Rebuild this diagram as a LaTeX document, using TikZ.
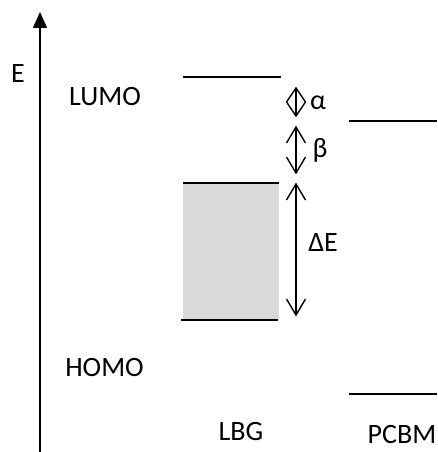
\documentclass[tikz,border=0pt]{standalone}
\usepackage{fontspec}
\setmainfont{Carlito}
\usetikzlibrary{arrows.meta,calc}
\begin{document}
\begin{tikzpicture}[x=1pt,y=-1pt,
  lvl/.style={line width=2pt},
  lbl/.style={font=\fontsize{28}{32}\selectfont, inner sep=0pt},
  gapline/.style={line width=1.4pt, line join=miter}]
% open double-headed offset arrow between two named coordinates
\newcommand\gaparrow[3]{%
  \draw[gapline] (#1) -- (#2);
  \draw[gapline] ($(#1)+(-9.5,#3)$) -- (#1) -- ($(#1)+(9.5,#3)$);
  \draw[gapline] ($(#2)+(-9.5,-#3)$) -- (#2) -- ($(#2)+(9.5,-#3)$);}
\useasboundingbox (0,0) rectangle (437,452);
% energy axis
\coordinate (axb) at (40,452);
\coordinate (axt) at (40,12);
\draw[line width=1.5pt, -{Triangle[length=16pt,width=14pt]}] (axb) -- (axt);
\node[lbl] (E) at (18,74) {E};
% band gap of the low band gap polymer
\fill[gray!30] (183,183) rectangle (279,320);
\draw[lvl] (183,77) coordinate (l1) -- (281,77) coordinate (l2);
\draw[lvl] (183,183) coordinate (g1) -- (279,183) coordinate (g2);
\draw[lvl] (181,320) coordinate (h1) -- (278,320) coordinate (h2);
% PCBM levels
\draw[lvl] (349,121) coordinate (p1) -- (437,121) coordinate (p2);
\draw[lvl] (349,394) coordinate (q1) -- (437,394) coordinate (q2);
% offsets
\coordinate (a1) at (296,88);  \coordinate (a2) at (296,116);
\coordinate (b1) at (296,127); \coordinate (b2) at (296,173);
\coordinate (d1) at (296,184); \coordinate (d2) at (296,315);
\gaparrow{a1}{a2}{14}
\gaparrow{b1}{b2}{16}
\gaparrow{d1}{d2}{16}
\node[lbl] (alpha) at (318,103) {α};
\node[lbl] (beta) at (320,150) {β};
\node[lbl] (dE) at (323,243) {ΔE};
% labels
\node[lbl] (lumo) at (105,97) {LUMO};
\node[lbl] (homo) at (104.5,367.5) {HOMO};
\node[lbl] (lbg) at (241,432) {LBG};
\node[lbl] (pcbm) at (402,435) {PCBM};
\end{tikzpicture}
\end{document}
